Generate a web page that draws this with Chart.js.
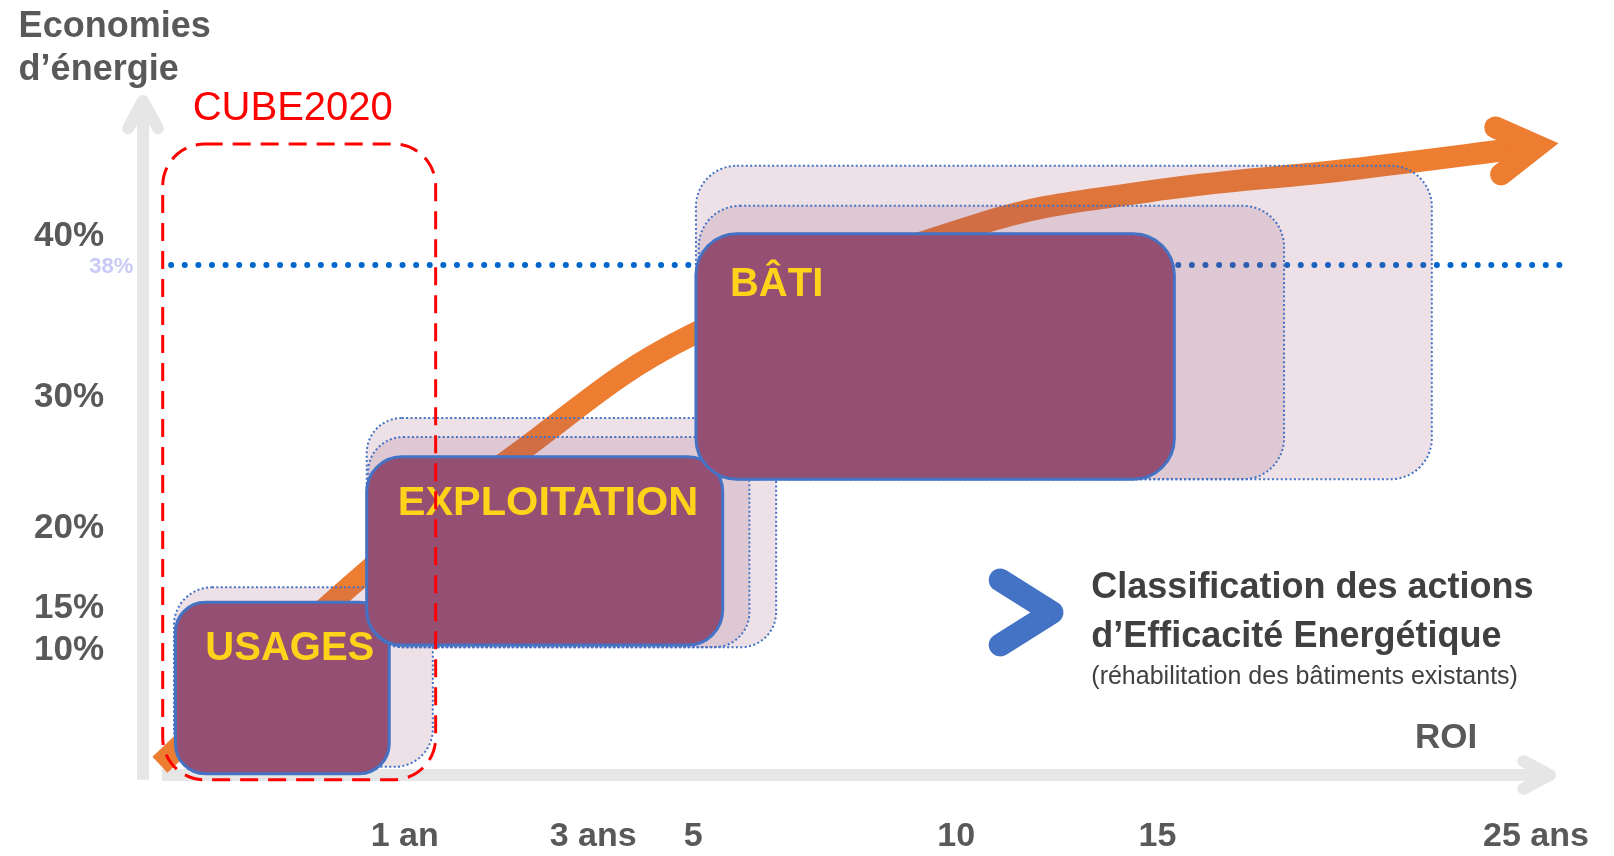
<!DOCTYPE html>
<html lang="fr">
<head>
<meta charset="utf-8">
<title>Classification des actions d’Efficacité Energétique</title>
<script src="https://cdn.jsdelivr.net/npm/chart.js@4"></script>
<style>
  html, body { margin: 0; padding: 0; background: #fff; overflow: hidden; }
  #wrap { width: 1614px; height: 856px; }
</style>
</head>
<body>
<div id="wrap"><canvas id="chart" width="1614" height="856"></canvas></div>
<script>
// axes are in diagram units (0-100 along each arrow); labels
const xTickPos = [18.6, 32.0, 39.1, 57.8, 72.1, 99.0];
const xTickLabels = ['1 an', '3 ans', '5', '10', '15', '25 ans'];
const yTickPos = [18.4, 24.5, 36.3, 55.6, 79.2];
const yTickLabels = ['10%', '15%', '20%', '30%', '40%'];

// 38 % target line
const targetLevel = 75.0;
const targetLabel = '38%';
const targetFrom = 2.0;
const targetTo = 101;

// action boxes, drawn in this order (extensions first, main box last)
const boxFamily = ['USAGES', 'USAGES', 'EXPLOITATION', 'EXPLOITATION', 'EXPLOITATION', 'BÂTI', 'BÂTI', 'BÂTI'];
const boxKind   = ['ext', 'main', 'ext', 'ext', 'main', 'ext', 'ext', 'main'];
const boxX0 = [2.2, 2.3, 15.9, 16.0, 15.9, 39.3, 39.5, 39.3];
const boxX1 = [20.6, 17.5, 45.0, 43.1, 41.2, 91.6, 81.1, 73.3];
const boxY0 = [1.2, 0.2, 18.8, 18.8, 19.1, 43.5, 43.5, 43.5];
const boxY1 = [27.6, 25.4, 52.5, 49.7, 46.8, 89.6, 83.7, 79.6];

// CUBE2020 scope
const cubeX = [1.4, 20.8];
const cubeY = [-0.7, 92.8];

// savings curve
const curveX = [1.2, 14.8, 26.5, 38.9, 59.4, 71.4, 85.6, 99.1];
const curveY = [1.5, 27.9, 47.1, 64.6, 81.0, 85.8, 89.0, 92.5];

const FONT = '"Liberation Sans", Arial, sans-serif';
const GREY = '#595959';

function chevron(ctx, tx, ty, ang, len, spread) {
  const back = ang + Math.PI;
  ctx.beginPath();
  ctx.moveTo(tx + len * Math.cos(back - spread), ty + len * Math.sin(back - spread));
  ctx.lineTo(tx, ty);
  ctx.lineTo(tx + len * Math.cos(back + spread), ty + len * Math.sin(back + spread));
  ctx.stroke();
}

function text(ctx, str, px, py, font, color) {
  ctx.font = font;
  ctx.fillStyle = color;
  ctx.textAlign = 'left';
  ctx.textBaseline = 'alphabetic';
  ctx.fillText(str, px, py);
}

const diagram = {
  id: 'diagram',
  beforeDatasetsDraw(chart) {
    const { ctx, scales: { x, y } } = chart;
    ctx.save();
    ctx.strokeStyle = '#e6e6e6';
    ctx.lineWidth = 12;
    // vertical arrow
    const ax = x.getPixelForValue(0);
    ctx.lineCap = 'butt';
    ctx.beginPath();
    ctx.moveTo(ax, y.getPixelForValue(-0.7));
    ctx.lineTo(ax, y.top + 6);
    ctx.stroke();
    // horizontal arrow
    const ay = y.getPixelForValue(0);
    const tipX = x.getPixelForValue(100);
    ctx.beginPath();
    ctx.moveTo(x.getPixelForValue(1.34), ay);
    ctx.lineTo(tipX, ay);
    ctx.stroke();
    ctx.lineCap = 'round';
    ctx.lineJoin = 'round';
    chevron(ctx, ax, y.top + 6, -Math.PI / 2, 31, 0.5);
    chevron(ctx, tipX, ay, 0, 30, 0.48);
    ctx.restore();
  },
  afterDatasetsDraw(chart) {
    const { ctx, scales: { x, y } } = chart;
    const X = v => x.getPixelForValue(v);
    const Y = v => y.getPixelForValue(v);
    ctx.save();

    // head of the savings arrow
    const n = curveX.length;
    const ex = X(curveX[n - 1]), ey = Y(curveY[n - 1]);
    const ang = Math.atan2(ey - Y(curveY[n - 2]), ex - X(curveX[n - 2]));
    ctx.strokeStyle = '#ed7d31';
    ctx.lineWidth = 22;
    ctx.lineCap = 'round';
    ctx.lineJoin = 'miter';
    chevron(ctx, ex, ey, ang, 46, 0.54);

    // action boxes
    for (let i = 0; i < boxFamily.length; i++) {
      const l = X(boxX0[i]), r = X(boxX1[i]);
      const t = Y(boxY1[i]), b = Y(boxY0[i]);
      const main = boxKind[i] === 'main';
      const rad = boxFamily[i] === 'USAGES' ? (main ? 30 : 38) : (boxFamily[i] === 'BÂTI' ? 41 : 35);
      ctx.beginPath();
      ctx.roundRect(l, t, r - l, b - t, rad);
      if (main) {
        ctx.fillStyle = '#954f72';
        ctx.fill();
        ctx.setLineDash([]);
        ctx.lineWidth = 3;
        ctx.strokeStyle = '#4472c4';
        ctx.stroke();
        const fam = boxFamily[i];
        const tx = fam === 'BÂTI' ? l + 34 : (fam === 'USAGES' ? l + 30 : l + 31);
        const ty = fam === 'BÂTI' ? t + 62 : t + 58;
        const size = fam === 'EXPLOITATION' ? 41.5 : 40;
        text(ctx, fam, tx, ty, 'bold ' + size + 'px ' + FONT, '#ffd31a');
      } else {
        ctx.fillStyle = 'rgba(149,79,114,0.17)';
        ctx.fill();
        ctx.setLineDash([2, 2.4]);
        ctx.lineCap = 'butt';
        ctx.lineWidth = 2;
        ctx.strokeStyle = '#4472c4';
        ctx.stroke();
      }
    }

    // CUBE2020 scope
    ctx.beginPath();
    ctx.roundRect(X(cubeX[0]), Y(cubeY[1]), X(cubeX[1]) - X(cubeX[0]), Y(cubeY[0]) - Y(cubeY[1]), 42);
    ctx.setLineDash([18, 10]);
    ctx.lineCap = 'butt';
    ctx.lineWidth = 3;
    ctx.strokeStyle = '#ff0000';
    ctx.stroke();
    ctx.setLineDash([]);
    text(ctx, 'CUBE2020', X(cubeX[0]) + 30, Y(cubeY[1]) - 24, '40px ' + FONT, '#ff0000');

    // axis titles and target label
    text(ctx, 'Economies', X(-8.84), Y(108.5), 'bold 36px ' + FONT, GREY);
    text(ctx, 'd’énergie', X(-8.84), Y(102.2), 'bold 36px ' + FONT, GREY);
    text(ctx, targetLabel, X(-3.82), Y(targetLevel) + 8, 'bold 22px ' + FONT, '#c9c9f5');
    text(ctx, 'ROI', X(90.4), Y(3.97), 'bold 35px ' + FONT, GREY);

    // caption with blue chevron
    ctx.strokeStyle = '#4472c4';
    ctx.lineWidth = 23;
    ctx.lineCap = 'round';
    ctx.lineJoin = 'round';
    chevron(ctx, X(64.6), Y(23.9), 0, 61, 0.56);
    text(ctx, 'Classification des actions', X(67.4), Y(26.03), 'bold 36px ' + FONT, '#404040');
    text(ctx, 'd’Efficacité Energétique', X(67.4), Y(18.8), 'bold 36px ' + FONT, '#404040');
    text(ctx, '(réhabilitation des bâtiments existants)', X(67.4), Y(13.4), '25px ' + FONT, '#404040');
    ctx.restore();
  }
};

const ctx = document.getElementById('chart').getContext('2d');
new Chart(ctx, {
  type: 'scatter',
  data: {
    datasets: [{
      label: 'Objectif 38%',
      data: [{ x: targetFrom, y: targetLevel }, { x: targetTo, y: targetLevel }],
      showLine: true,
      borderColor: '#0066cc',
      borderWidth: 6,
      borderDash: [0.01, 13.6],
      borderCapStyle: 'round',
      pointRadius: 0,
      clip: false,
      order: 2
    }, {
      label: 'Economies d’énergie',
      data: curveX.map((v, i) => ({ x: v, y: curveY[i] })),
      showLine: true,
      borderColor: '#ed7d31',
      borderWidth: 22,
      borderCapStyle: 'butt',
      tension: 0.4,
      pointRadius: 0,
      clip: false,
      order: 1
    }]
  },
  options: {
    responsive: false,
    animation: false,
    devicePixelRatio: 1,
    layout: { padding: { top: 95, right: 64, left: 0, bottom: 0 } },
    plugins: { legend: { display: false }, tooltip: { enabled: false } },
    scales: {
      x: {
        type: 'linear', min: 0, max: 100,
        afterFit(s) { s.height = 81; s.paddingLeft = 0; s.paddingRight = 0; },
        afterBuildTicks(s) { s.ticks = xTickPos.map(v => ({ value: v })); },
        grid: { display: false, drawTicks: false },
        border: { display: false },
        ticks: {
          padding: 41, autoSkip: false, maxRotation: 0,
          color: GREY, font: { family: FONT, size: 34, weight: 'bold' },
          callback: (v, i) => xTickLabels[i]
        }
      },
      y: {
        type: 'linear', min: 0, max: 100,
        afterFit(s) { s.width = 143; s.paddingTop = 0; s.paddingBottom = 0; },
        afterBuildTicks(s) { s.ticks = yTickPos.map(v => ({ value: v })); },
        grid: { display: false, drawTicks: false },
        border: { display: false },
        ticks: {
          padding: 39, autoSkip: false,
          color: GREY, font: { family: FONT, size: 35, weight: 'bold' },
          callback: (v, i) => yTickLabels[i]
        }
      }
    }
  },
  plugins: [diagram]
});
</script>
</body>
</html>
